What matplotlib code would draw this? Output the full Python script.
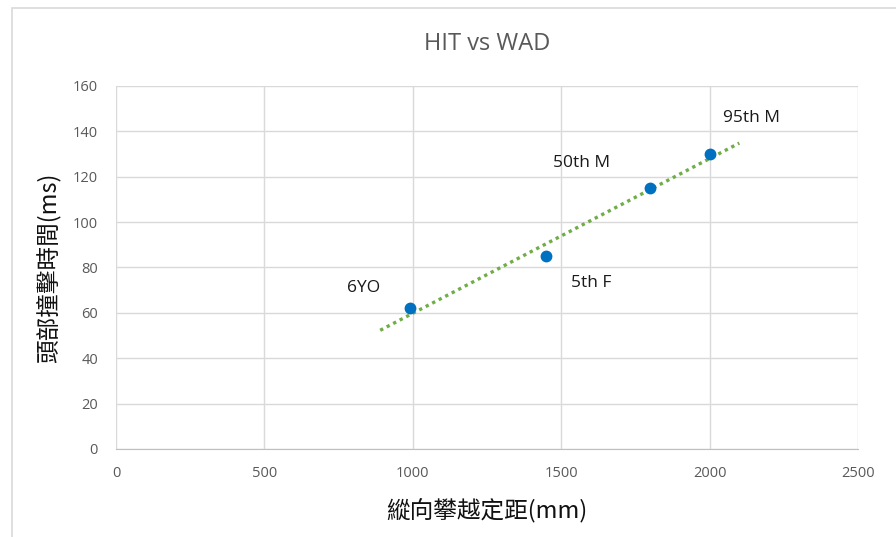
import numpy as np
import matplotlib.pyplot as plt
from matplotlib.patches import Rectangle

plt.rcParams['font.family'] = ['Open Sans', 'DejaVu Sans']

# data
names = ["6YO", "5th F", "50th M", "95th M"]
wad = np.array([990, 1450, 1800, 2000])
hit = np.array([62, 85, 115, 130])
# label positions (data units)
lab_x = [835, 1600, 1570, 2140]
lab_y = [71, 73, 126, 146]

fig = plt.figure(figsize=(8.96, 5.37), dpi=100)
ax = fig.add_axes([0.1295, 0.1639, 0.8281, 0.676])

# linear trendline, extended 100 mm both ways
k, b = np.polyfit(wad, hit, 1)
xt = np.array([wad.min() - 100, wad.max() + 100])
ax.plot(xt, k * xt + b, color="#70AD47", ls=(0, (1, 1.2)), lw=2.4, zorder=3)
ax.plot(wad, hit, "o", color="#0070C0", ms=7.5, zorder=4)

for n, x, y in zip(names, lab_x, lab_y):
    ax.text(x, y, n, fontsize=12.5, color="#1a1a1a", ha="center", va="center")

ax.set_xlim(0, 2500)
ax.set_ylim(0, 160)
ax.set_xticks(np.arange(0, 2501, 500))
ax.set_yticks(np.arange(0, 161, 20))
ax.grid(True, color="#d9d9d9", lw=1)
ax.set_axisbelow(True)
for s in ["top", "right", "left"]:
    ax.spines[s].set_visible(False)
ax.spines["bottom"].set_color("#bfbfbf")
ax.tick_params(length=0, labelsize=10.5, labelcolor="#595959")
ax.tick_params(axis="x", pad=12)
ax.tick_params(axis="y", pad=13)

ax.set_title("HIT vs WAD", fontsize=17, color="#595959", pad=26)
ax.set_xlabel("縱向攀越定距(mm)", fontsize=17, color="#111111", labelpad=13,
              family=["Noto Sans CJK TC", "DejaVu Sans"])
ax.set_ylabel("頭部撞擊時間(ms)", fontsize=17, color="#111111", labelpad=8,
              family=["Noto Sans CJK TC", "DejaVu Sans"])

fig.patches.append(Rectangle((12 / 896, -0.05), 1.1, 1 - 8 / 537 + 0.05,
                             transform=fig.transFigure, fill=False,
                             ec="#d9d9d9", lw=1.2))

fig.savefig("out.png", dpi=100)
